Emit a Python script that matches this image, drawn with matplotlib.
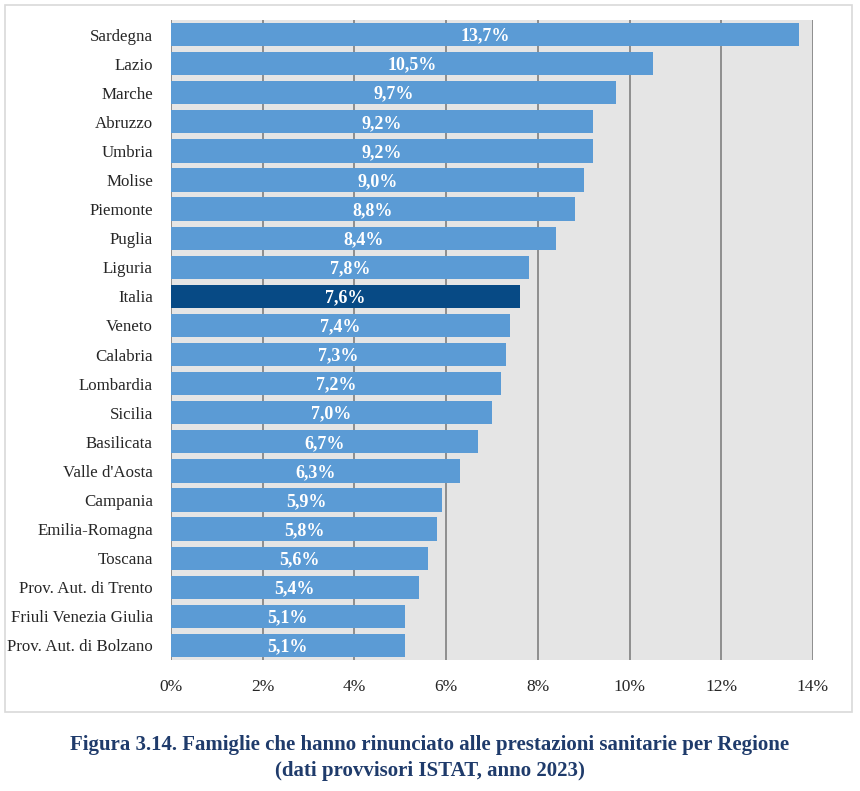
import matplotlib
matplotlib.use("Agg")
import matplotlib.pyplot as plt
from matplotlib.patches import Rectangle
from matplotlib.ticker import FuncFormatter

regions = ["Sardegna", "Lazio", "Marche", "Abruzzo", "Umbria", "Molise", "Piemonte",
           "Puglia", "Liguria", "Italia", "Veneto", "Calabria", "Lombardia", "Sicilia",
           "Basilicata", "Valle d'Aosta", "Campania", "Emilia-Romagna", "Toscana",
           "Prov. Aut. di Trento", "Friuli Venezia Giulia", "Prov. Aut. di Bolzano"]
values = [13.7, 10.5, 9.7, 9.2, 9.2, 9.0, 8.8, 8.4, 7.8, 7.6, 7.4, 7.3, 7.2, 7.0,
          6.7, 6.3, 5.9, 5.8, 5.6, 5.4, 5.1, 5.1]
xticks = [0, 2, 4, 6, 8, 10, 12, 14]
caption = ("Figura 3.14. Famiglie che hanno rinunciato alle prestazioni sanitarie per Regione\n"
           "(dati provvisori ISTAT, anno 2023)")

LIGHT = "#5B9BD5"
DARK = "#074A85"
SERIF = ["Liberation Serif", "DejaVu Serif"]

fig = plt.figure(figsize=(8.6, 7.91), dpi=100)
fig.patch.set_facecolor("white")

# chart frame
fig.patches.append(Rectangle((5 / 860, 1 - 712 / 791), 847 / 860, 707 / 791,
                             transform=fig.transFigure, fill=False,
                             edgecolor="#d9d9d9", linewidth=1.2))

ax = fig.add_axes([171 / 860, 1 - 660 / 791, 642 / 860, 640 / 791])
ax.set_facecolor("#E5E5E5")

y = list(range(len(regions)))
colors = [DARK if r == "Italia" else LIGHT for r in regions]
ax.barh(y, values, height=0.8, color=colors, zorder=3)
for yi, v in zip(y, values):
    ax.text(v / 2, yi + 0.05, f"{v:.1f}%".replace(".", ","), ha="center", va="center",
            color="white", fontsize=13, fontweight="bold", family=SERIF, zorder=4)

ax.set_xlim(0, 14)
ax.set_ylim(len(regions) - 0.5, -0.5)
ax.set_xticks(xticks)
ax.xaxis.set_major_formatter(FuncFormatter(lambda x, p: f"{x:.0f}%"))
ax.grid(axis="x", color="#808080", linewidth=1.2, zorder=1)
ax.set_axisbelow(True)
ax.set_yticks(y)
ax.set_yticklabels(regions)
for lab in ax.get_yticklabels():
    lab.set_family(SERIF)
    lab.set_fontsize(12.2)
    lab.set_color("#262626")
for lab in ax.get_xticklabels():
    lab.set_family(SERIF)
    lab.set_fontsize(12.5)
    lab.set_color("#262626")
ax.tick_params(axis="both", length=0)
ax.tick_params(axis="y", pad=13)
ax.tick_params(axis="x", pad=14)
for s in ax.spines.values():
    s.set_visible(False)

fig.text(0.5, 1 - 758 / 791, caption, ha="center", va="center", fontsize=15,
         fontweight="bold", color="#1F3B6B", family=["Liberation Serif"], linespacing=1.4)

fig.savefig("out.png", dpi=100)
